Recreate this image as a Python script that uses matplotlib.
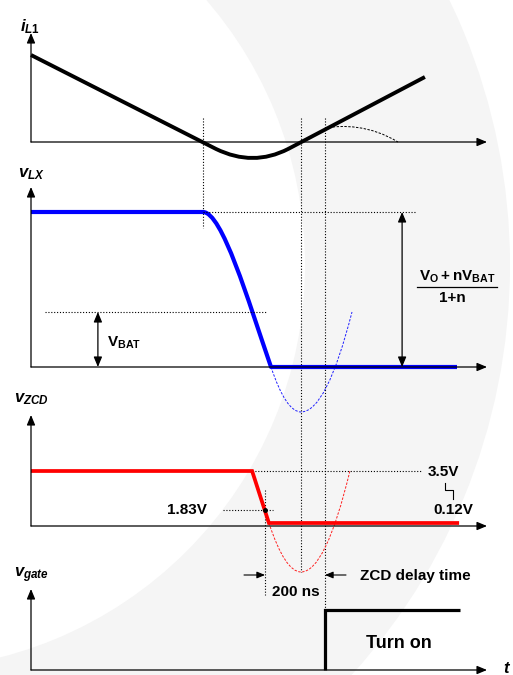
import matplotlib
matplotlib.use("Agg")
import matplotlib.pyplot as plt
import matplotlib.transforms as mtransforms
from matplotlib.path import Path
from matplotlib.patches import PathPatch, Wedge

plt.rcParams.update({
    "font.family": ["Liberation Sans", "DejaVu Sans"],
    "font.weight": "bold",
    "mathtext.fontset": "custom",
    "mathtext.rm": "Liberation Sans:bold",
    "mathtext.it": "Liberation Sans:italic:bold",
    "mathtext.bf": "Liberation Sans:bold",
})

# time axis in ns (200 ns between comparator trip and gate turn-on)
T_END = 1520
T_ZERO1 = 573     # iL1 crosses zero (falling)
T_ZERO2 = 900     # iL1 crosses zero (rising)
T_DET = 780       # vZCD reaches 1.83 V
T_ON = 980        # gate turns on (after 200 ns delay)

# iL1 (arbitrary units)
il1_t = [0, 617, 740, 857, 1313]
il1_v = [0.87, -0.07, -0.25, -0.07, 0.65]
il1_tail_t = [980, 1040, 1130, 1223]
il1_tail_v = [0.14, 0.17, 0.17, 0.0]

# vLX
vlx_t = [0, 573, 637, 723, 800, 1420]
vlx_v = [1.55, 1.55, 1.55, 0.67, 0.0, 0.0]
vlx_ring_t = [800, 850, 900, 985, 1070]
vlx_ring_v = [0.0, -0.45, -0.45, -0.45, 0.55]
vlx_bat = 0.55

# vZCD
vzcd_t = [0, 737, 793, 1427]
vzcd_v = [0.55, 0.55, 0.03, 0.03]
vzcd_ring_t = [793, 847, 900, 982, 1063]
vzcd_ring_v = [0.03, -0.46, -0.46, -0.46, 0.55]
vzcd_trip = 0.16

# vgate
vgate_t = [T_ON, T_ON, 1430]
vgate_v = [0.0, 0.6, 0.6]

W, H = 513, 675
X0, X1 = 31, 487
PX_PER_UNIT = 100.0

fig = plt.figure(figsize=(W / 100, H / 100), dpi=100)
ov = fig.add_axes([0, 0, 1, 1], zorder=0)
ov.set_xlim(0, W)
ov.set_ylim(H, 0)
ov.axis("off")

# faint watermark ring in the background
ov.add_patch(Wedge((-100, 265), 610, 0, 360, width=205, facecolor="#f5f5f5",
                   edgecolor="none", zorder=0))

arrow = dict(arrowstyle="-|>,head_length=0.6,head_width=0.25", color="k",
             lw=0.9, mutation_scale=10, shrinkA=0, shrinkB=0)
both = "<|-|>,head_length=0.6,head_width=0.25"


def make_panel(base, top):
    ax = fig.add_axes([X0 / W, 1 - base / H, (X1 - X0) / W, (base - top) / H], zorder=2)
    ax.set_xlim(0, T_END)
    ax.set_ylim(0, (base - top) / PX_PER_UNIT)
    ax.axis("off")
    ax.annotate("", xy=(0, 1), xytext=(0, 0), xycoords="axes fraction",
                arrowprops=arrow, annotation_clip=False)
    ax.annotate("", xy=(1, 0), xytext=(0, 0), xycoords="axes fraction",
                arrowprops=arrow, annotation_clip=False)
    return ax


def curve(ax, t, v, codes, **kw):
    p = Path(list(zip(t, v)), codes)
    ax.add_patch(PathPatch(p, fill=False, clip_on=False, capstyle="butt",
                           joinstyle="round", **kw))


M, L, C3, C4 = Path.MOVETO, Path.LINETO, Path.CURVE3, Path.CURVE4
dotted = dict(color="k", lw=0.8, linestyle=(0, (1, 1.6)))

ax1 = make_panel(142, 33)
ax2 = make_panel(367, 187)
ax3 = make_panel(526, 415)
ax4 = make_panel(670, 589)

# vertical timing markers (x in time, y in figure pixels)
tr = mtransforms.blended_transform_factory(ax1.transData, ov.transData)
for t, y0, y1 in [(T_ZERO1, 118, 228), (T_ZERO2, 118, 572), (T_ON, 118, 610), (T_DET, 490, 595)]:
    ov.plot([t, t], [y0, y1], transform=tr, clip_on=False, zorder=1, **dotted)

# iL1
curve(ax1, il1_t, il1_v, [M, L, C3, C3, L], color="k", lw=2.8)
curve(ax1, il1_tail_t, il1_tail_v, [M, C4, C4, C4], color="k", lw=0.7,
      linestyle=(0, (2.5, 1.5)))

# vLX
ax2.plot([T_ZERO1, 1283], [vlx_v[0]] * 2, clip_on=False, **dotted)
ax2.plot([47, 787], [vlx_bat] * 2, clip_on=False, **dotted)
curve(ax2, vlx_ring_t, vlx_ring_v, [M, C3, C3, C3, C3], color="#2020ff", lw=0.7,
      linestyle=(0, (2.5, 1.5)))
curve(ax2, vlx_t, vlx_v, [M, L, C4, C4, C4, L], color="#0000ff", lw=3.0)
ax2.annotate("", xy=(223, vlx_bat), xytext=(223, 0),
             arrowprops=dict(arrow, arrowstyle=both), annotation_clip=False)
ax2.annotate("", xy=(1237, vlx_v[0]), xytext=(1237, 0),
             arrowprops=dict(arrow, arrowstyle=both), annotation_clip=False)

# vZCD
ax3.plot([vzcd_t[1], 1300], [vzcd_v[0]] * 2, clip_on=False, **dotted)
ax3.plot([640, 807], [vzcd_trip] * 2, clip_on=False, **dotted)
curve(ax3, vzcd_ring_t, vzcd_ring_v, [M, C3, C3, C3, C3], color="#ff2020", lw=0.7,
      linestyle=(0, (2.5, 1.5)))
ax3.plot(vzcd_t, vzcd_v, color="#ff0000", lw=2.7, clip_on=False,
         solid_capstyle="butt", solid_joinstyle="miter")
ax3.plot([T_DET], [vzcd_trip], "o", color="k", ms=2.5, clip_on=False)

# vgate
ax4.plot(vgate_t, vgate_v, color="k", lw=2.3, clip_on=False,
         solid_capstyle="butt", solid_joinstyle="miter")

# 200 ns delay arrows
ov.annotate("", xy=(T_DET, 575), xytext=(T_DET - 70, 575), xycoords=tr, textcoords=tr,
            arrowprops=dict(arrow, lw=0.8, mutation_scale=8), annotation_clip=False)
ov.annotate("", xy=(T_ON, 575), xytext=(T_ON + 70, 575), xycoords=tr, textcoords=tr,
            arrowprops=dict(arrow, lw=0.8, mutation_scale=8), annotation_clip=False)

# small step bracket between 3.5V and 0.12V
ov.plot([445, 445, 453, 453], [483, 490, 490, 499], color="k", lw=0.8)

# fraction bar
ov.plot([417, 497], [287, 287], color="k", lw=0.9)

# texts
ov.text(20, 31, r"$i_{\mathit{L1}}$", fontsize=12, va="baseline")
ov.text(18, 177, r"$v_{\mathit{LX}}$", fontsize=12, va="baseline")
ov.text(14, 402, r"$v_{\mathit{ZCD}}$", fontsize=12, va="baseline")
ov.text(14, 577, r"$v_{\mathit{gate}}$", fontsize=12, va="baseline")
ov.text(503, 673, r"$t$", fontsize=12, va="baseline")

ov.text(107, 343, r"$\mathrm{V}_{\mathrm{BAT}}$", fontsize=11, va="center")
ov.text(457, 277, r"$\mathrm{V}_{\mathrm{O}}+\mathrm{nV}_{\mathrm{BAT}}$",
        fontsize=11, ha="center", va="center")
ov.text(452, 298, "1+n", fontsize=11, ha="center", va="center")
ov.text(428, 472, "3.5V", fontsize=11, va="center")
ov.text(433, 510, "0.12V", fontsize=11, va="center")
ov.text(167, 510, "1.83V", fontsize=11, va="center")
ov.text(296, 592, "200 ns", fontsize=11, ha="center", va="center")
ov.text(360, 576, "ZCD delay time", fontsize=11, va="center")
ov.text(366, 643, "Turn on", fontsize=13, va="center")

fig.savefig("out.png", dpi=100)
